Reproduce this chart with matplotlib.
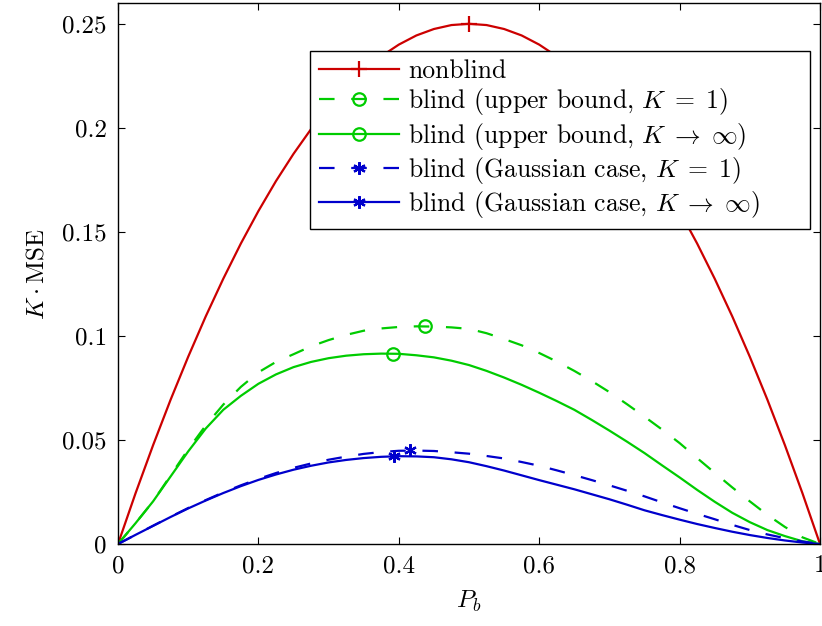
import matplotlib
matplotlib.use("Agg")
import matplotlib.pyplot as plt
from matplotlib.lines import Line2D

plt.rcParams['font.family'] = 'serif'
plt.rcParams['font.serif'] = ['cmr10']
plt.rcParams['mathtext.fontset'] = 'cm'
plt.rcParams['axes.formatter.use_mathtext'] = True

# ---- data ----
p_grid = [0, 0.025, 0.05, 0.075, 0.10, 0.125, 0.15, 0.175, 0.20, 0.225,
          0.25, 0.275, 0.30, 0.325, 0.35, 0.375, 0.40, 0.425, 0.45, 0.475,
          0.50, 0.525, 0.55, 0.575, 0.60, 0.625, 0.65, 0.675, 0.70, 0.725,
          0.75, 0.775, 0.80, 0.825, 0.85, 0.875, 0.90, 0.925, 0.95, 0.975, 1.0]

nonblind = [0, 0.0244, 0.0475, 0.0694, 0.09, 0.1094, 0.1275, 0.1444, 0.16, 0.1744,
            0.1875, 0.1994, 0.21, 0.2194, 0.2275, 0.2344, 0.24, 0.2444, 0.2475, 0.2494,
            0.25, 0.2494, 0.2475, 0.2444, 0.24, 0.2344, 0.2275, 0.2194, 0.21, 0.1994,
            0.1875, 0.1744, 0.16, 0.1444, 0.1275, 0.1094, 0.09, 0.0694, 0.0475, 0.0244, 0]

ub_k1 = [0, 0.0100, 0.0205, 0.0330, 0.0455, 0.0570, 0.0670, 0.0755, 0.0825, 0.0875,
         0.0912, 0.0950, 0.0980, 0.1005, 0.1025, 0.1036, 0.1043, 0.1046, 0.1045, 0.1041,
         0.1034, 0.1013, 0.0985, 0.0955, 0.0918, 0.0877, 0.0832, 0.0783, 0.0730, 0.0672,
         0.0612, 0.0550, 0.0485, 0.0413, 0.0342, 0.0272, 0.0205, 0.0140, 0.0082, 0.0032, 0]

ub_kinf = [0, 0.0100, 0.0205, 0.0325, 0.0445, 0.0555, 0.0645, 0.0712, 0.0770, 0.0815,
           0.0850, 0.0875, 0.0893, 0.0905, 0.0912, 0.0915, 0.0914, 0.0907, 0.0897, 0.0881,
           0.0860, 0.0832, 0.0800, 0.0765, 0.0727, 0.0687, 0.0645, 0.0596, 0.0545, 0.0492,
           0.0437, 0.0378, 0.0320, 0.0260, 0.0203, 0.0150, 0.0105, 0.0067, 0.0038, 0.0013, 0]

gauss_k1 = [0, 0.0044, 0.0088, 0.0131, 0.0173, 0.0211, 0.0248, 0.0282, 0.0313, 0.0341,
            0.0366, 0.0387, 0.0405, 0.0420, 0.0433, 0.0442, 0.0448, 0.0449, 0.0447, 0.0441,
            0.0434, 0.0423, 0.0411, 0.0394, 0.0376, 0.0354, 0.0331, 0.0307, 0.0282, 0.0256,
            0.0229, 0.0200, 0.0172, 0.0145, 0.0119, 0.0092, 0.0067, 0.0046, 0.0028, 0.0012, 0]

gauss_kinf = [0, 0.0044, 0.0087, 0.0130, 0.0171, 0.0209, 0.0245, 0.0278, 0.0308, 0.0334,
              0.0357, 0.0376, 0.0392, 0.0404, 0.0413, 0.0419, 0.0422, 0.0421, 0.0417, 0.0407,
              0.0393, 0.0374, 0.0353, 0.0330, 0.0307, 0.0285, 0.0263, 0.0239, 0.0215, 0.0189,
              0.0162, 0.0139, 0.0117, 0.0096, 0.0077, 0.0059, 0.0043, 0.0029, 0.0017, 0.0007, 0]

# peak markers
mark_p = [0.5, 0.437, 0.392, 0.416, 0.393]
mark_v = [0.25, 0.1046, 0.0915, 0.0451, 0.0422]

labels = ['nonblind',
          r'blind (upper bound, $K\;=\;1$)',
          r'blind (upper bound, $K\;\rightarrow\;\infty$)',
          r'blind (Gaussian case, $K\;=\;1$)',
          r'blind (Gaussian case, $K\;\rightarrow\;\infty$)']

xticks = [0, 0.2, 0.4, 0.6, 0.8, 1]
xticklabels = ['0', '0.2', '0.4', '0.6', '0.8', '1']
yticks = [0, 0.05, 0.1, 0.15, 0.2, 0.25]
yticklabels = ['0', '0.05', '0.1', '0.15', '0.2', '0.25']

RED = '#cc0000'
GREEN = '#00cc00'
BLUE = '#0000cc'
dash = (0, (7, 7.5))
asterisk = (6, 2, 0)

series = [nonblind, ub_k1, ub_kinf, gauss_k1, gauss_kinf]
colors = [RED, GREEN, GREEN, BLUE, BLUE]
styles = ['-', dash, '-', dash, '-']
markers = ['+', 'o', 'o', asterisk, asterisk]
msizes = [12, 9, 9, 9, 9]

fig = plt.figure(figsize=(8.22, 6.26), dpi=100)
ax = fig.add_axes([118/822, 82/626, 702/822, 541/626])

handles = []
for y, c, ls, m, ms, mp, mv, lab in zip(series, colors, styles, markers, msizes,
                                          mark_p, mark_v, labels):
    ax.plot(p_grid, y, color=c, linestyle=ls, linewidth=1.6)
    ax.plot([mp], [mv], linestyle='none', marker=m, markersize=ms,
            markerfacecolor='none', markeredgecolor=c, markeredgewidth=1.6)
    handles.append(Line2D([], [], color=c, linestyle=ls, linewidth=1.6, marker=m,
                          markersize=ms, markerfacecolor='none', markeredgecolor=c,
                          markeredgewidth=1.6, label=lab))

ax.set_xlim(0, 1)
ax.set_ylim(0, 0.26)
ax.set_xticks(xticks)
ax.set_xticklabels(xticklabels)
ax.set_yticks(yticks)
ax.set_yticklabels(yticklabels)
ax.tick_params(direction='in', length=5, width=0.8, labelsize=18,
               top=True, right=True, pad=8)
for s in ax.spines.values():
    s.set_linewidth(1.0)

ax.set_xlabel(r'$P_b$', fontsize=18, labelpad=8)
ax.set_ylabel(r'$K\cdot\mathrm{MSE}$', fontsize=18, labelpad=10)

leg = ax.legend(handles=handles, loc='upper left',
                bbox_to_anchor=(0.2735, 0.5865, 0.7123, 0.3255), mode='expand',
                fontsize=18.5, handlelength=3.1, handletextpad=0.36, labelspacing=0.12,
                borderpad=0.35, borderaxespad=0, fancybox=False, framealpha=1,
                edgecolor='black', numpoints=1)
leg.get_frame().set_linewidth(1.0)

fig.savefig('out.png', dpi=100)
